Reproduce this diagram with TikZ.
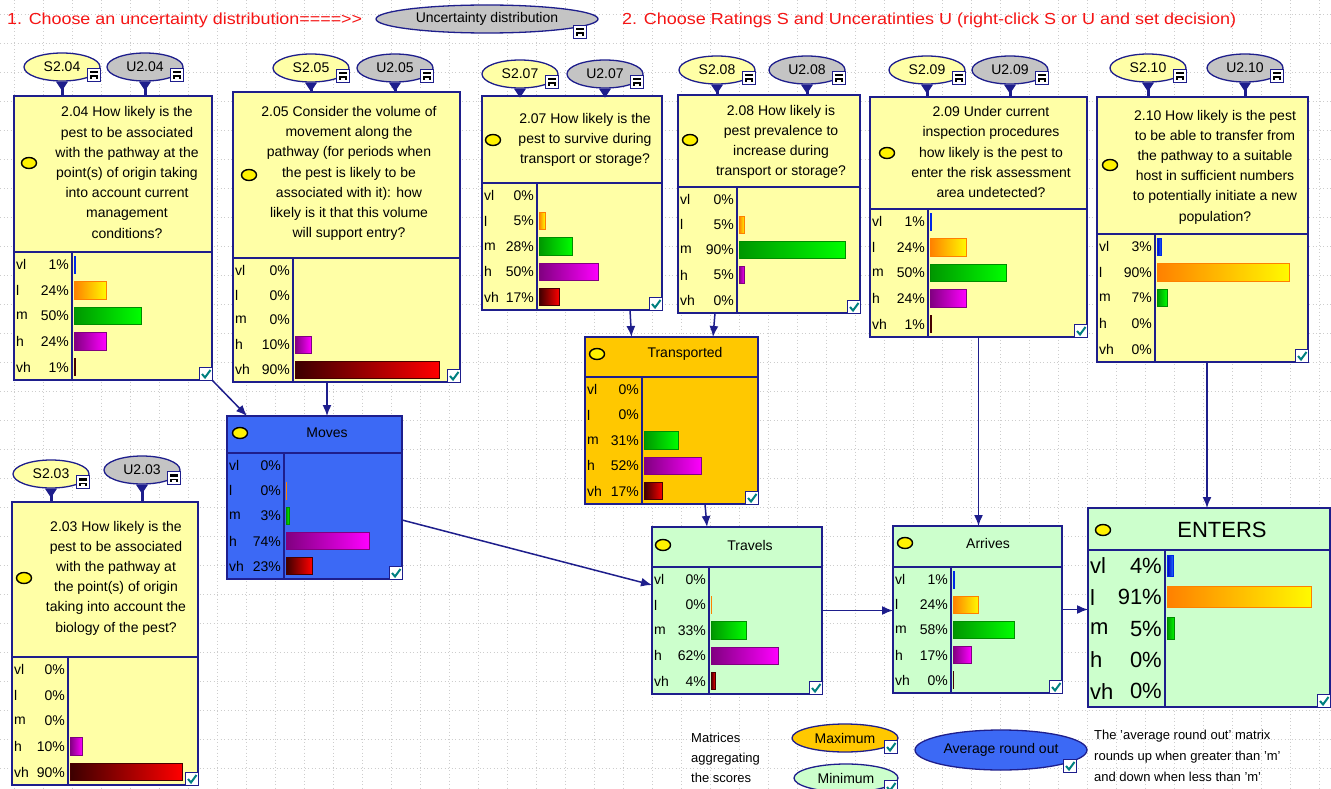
\documentclass[tikz,border=0pt]{standalone}
\usepackage{fontspec}
\setmainfont{Liberation Sans}
\usetikzlibrary{arrows.meta,shapes.geometric}
\definecolor{navy}{RGB}{30,30,140}
\definecolor{qyel}{RGB}{255,255,166}
\definecolor{ugrey}{RGB}{196,196,196}
\definecolor{pgreen}{RGB}{204,255,204}
\definecolor{porange}{RGB}{255,200,0}
\definecolor{pblue}{RGB}{60,105,245}
\definecolor{hred}{RGB}{245,20,20}
\definecolor{chkteal}{RGB}{0,128,128}
\definecolor{gridc}{RGB}{205,205,205}
\tikzset{
 pnodebox/.style={draw=navy, line width=1.6pt, rectangle, inner sep=0pt, outer sep=0pt, anchor=north west},
 divl/.style={draw=navy, line width=1.6pt},
 qtext/.style={font=\fontsize{14}{20.2}\selectfont, align=center, inner sep=0pt},
 lab/.style={font=\fontsize{14}{16}\selectfont, inner sep=0pt},
 ovalicon/.style={ellipse, draw=black, fill=yellow, line width=1.4pt, minimum width=15pt, minimum height=11pt, inner sep=0pt},
 sell/.style={ellipse, draw=navy, line width=1.3pt, fill=qyel, minimum width=76pt, minimum height=28pt, inner sep=0pt, font=\fontsize{14}{16}\selectfont},
 uell/.style={sell, fill=ugrey},
 chkbox/.style={draw=navy, fill=white, line width=1pt, minimum size=13pt, inner sep=0pt, anchor=north west},
 decbox/.style={draw=navy, fill=white, line width=1pt, minimum size=13pt, inner sep=0pt, anchor=north west},
 chkmark/.style={draw=chkteal, line width=2pt},
 arr/.style={draw=navy, line width=1.5pt, -{Latex[length=11pt,width=9pt]}},
 slink/.style={draw=navy, line width=3pt},
 gridl/.style={draw=gridc, line width=0.8pt, dash pattern=on 1pt off 2.5pt},
 bar1/.style={left color={rgb,255:red,0;green,0;blue,190}, right color={rgb,255:red,30;green,110;blue,255}, draw={rgb,255:red,0;green,40;blue,230}, line width=1pt},
 bar2/.style={left color={rgb,255:red,255;green,128;blue,0}, right color={rgb,255:red,255;green,250;blue,0}, draw={rgb,255:red,255;green,128;blue,0}, line width=1pt},
 bar3/.style={left color={rgb,255:red,0;green,150;blue,0}, right color={rgb,255:red,0;green,255;blue,0}, draw={rgb,255:red,0;green,140;blue,0}, line width=1pt},
 bar4/.style={left color={rgb,255:red,128;green,0;blue,128}, right color={rgb,255:red,255;green,0;blue,255}, draw={rgb,255:red,128;green,0;blue,128}, line width=1pt},
 bar5/.style={left color={rgb,255:red,60;green,0;blue,0}, right color={rgb,255:red,255;green,0;blue,0}, draw={rgb,255:red,70;green,0;blue,0}, line width=1pt},
}
\newcommand\statename[1]{\ifcase#1\or vl\or l\or m\or h\or vh\fi}
\newcommand\chkicon[2]{%
 \node[chkbox] (#1) at (#2) {};
 \draw[chkmark] ([shift={(-4,0)}]#1.center) -- ([shift={(-1,3.5)}]#1.center) -- ([shift={(4.5,-4)}]#1.center);}
\newcommand\decicon[2]{%
 \node[decbox] (#1) at (#2) {};
 \fill[black] ([shift={(-4,-4)}]#1.center) rectangle ([shift={(4,-1.5)}]#1.center);
 \fill[black] ([shift={(-4,0.5)}]#1.center) rectangle ([shift={(4,2)}]#1.center);
 \fill[black] ([shift={(-4,0.5)}]#1.center) rectangle ([shift={(-2.2,4.2)}]#1.center);
 \fill[black] ([shift={(2.2,0.5)}]#1.center) rectangle ([shift={(4,4.2)}]#1.center);}
\newcommand\pbox[8]{%
 \node[pnodebox, fill=#8, minimum width={#4-#2}, minimum height={#5-#3}] (#1) at (#2,#3) {};
 \draw[divl] (#2,#6) -- (#4,#6);
 \draw[divl] (#7,#6) -- (#7,#5);
 \chkicon{#1-ck}{#4-13,#5-13}}
\newcommand\labs[6]{%
 \foreach \bv [count=\i] in {#6}{%
  \pgfmathsetmacro\yc{#4+(#5-#4)/5*(\i-0.5)}
  \node[lab, anchor=west] (#1-s\i) at (#2+2,\yc) {\statename{\i}};
  \node[lab, anchor=east] (#1-p\i) at (#3-3,\yc) {\bv\%};
 }}
\newcommand\bars[6]{%
 \foreach \bv [count=\i] in {#6}{%
  \pgfmathsetmacro\yc{#4+(#5-#4)/5*(\i-0.5)}
  \pgfmathsetmacro\bh{(#5-#4)/5*0.34}
  \pgfmathsetmacro\bw{(#3-#2)*0.0096*\bv}
  \ifdim\bv pt>0pt
   \shadedraw[bar\i] (#2+2,\yc-\bh) rectangle (#2+2+\bw,\yc+\bh);
  \fi
 }}
\newcommand\su[5]{%
 \node[#5] (#1) at (#2,#3) {#4};
 \decicon{#1-d}{#2+25,#3+1}}
\begin{document}
\begin{tikzpicture}[x=1pt,y=-1pt]
\useasboundingbox (0,0) rectangle (1331,789);
\fill[white] (0,0) rectangle (1331,789);
\foreach \gy in {14.5,43.5,...,789} \draw[gridl] (0,\gy) -- (1331,\gy);
\foreach \gx in {14,43,...,1331} \draw[gridl] (\gx,0) -- (\gx,789);

% headers
\node[anchor=west, inner sep=0pt, text=hred] (h1) at (7,20) {\resizebox{355pt}{\height}{\fontsize{16}{18}\selectfont 1. Choose an uncertainty distribution====>{}>}};
\node[uell, minimum width=222pt, minimum height=28pt] (ud) at (487,19) {Uncertainty distribution};
\decicon{ud-d}{573,25}
\node[anchor=west, inner sep=0pt, text=hred] (h2) at (622,20) {\resizebox{614pt}{\height}{\fontsize{16}{18}\selectfont 2. Choose Ratings S and Unceratinties U (right-click  S or U and set decision)}};

% question nodes
\pbox{n204}{14}{96}{212}{380}{252}{72}{qyel}
\node[ovalicon] (n204-ov) at (29,163) {};
\node[qtext] (q204) at (127,172.5) {2.04 How likely is the\\pest to be associated\\with the pathway at the\\point(s) of origin taking\\into account current\\management\\conditions?};
\bars{n204}{72}{212}{252}{380}{1,24,50,24,1}
\labs{n204}{14}{72}{252}{380}{1,24,50,24,1}

\pbox{n205}{233}{92}{460}{382}{258}{293}{qyel}
\node[ovalicon] (n205-ov) at (249,175) {};
\node[qtext] (q205) at (349,173.5) {2.05 Consider the volume of\\movement along the\\pathway (for periods when\\the pest is likely to be\\associated with it): how\\likely is it that this volume\\will support entry?};
\bars{n205}{293}{460}{258}{382}{0,0,0,10,90}
\labs{n205}{233}{293}{258}{382}{0,0,0,10,90}

\pbox{n207}{482}{96}{662}{310}{183}{537}{qyel}
\node[ovalicon] (n207-ov) at (493,140) {};
\node[qtext] (q207) at (585,140) {2.07 How likely is the\\pest to survive during\\transport or storage?};
\bars{n207}{537}{662}{183}{310}{0,5,28,50,17}
\labs{n207}{482}{537}{183}{310}{0,5,28,50,17}

\pbox{n208}{678}{95}{860}{313}{187}{737}{qyel}
\node[ovalicon] (n208-ov) at (690,140) {};
\node[qtext] (q208) at (781,142) {2.08 How likely is\\pest prevalence to\\increase during\\transport or storage?};
\bars{n208}{737}{860}{187}{313}{0,5,90,5,0}
\labs{n208}{678}{737}{187}{313}{0,5,90,5,0}

\pbox{n209}{870}{97}{1087}{337}{209}{928}{qyel}
\node[ovalicon] (n209-ov) at (887,153) {};
\node[qtext] (q209) at (991,152) {2.09 Under current\\inspection procedures\\how likely is the pest to\\enter the risk assessment\\area undetected?};
\bars{n209}{928}{1087}{209}{337}{1,24,50,24,1}
\labs{n209}{870}{928}{209}{337}{1,24,50,24,1}

\pbox{n210}{1097}{97}{1308}{362}{234}{1155}{qyel}
\node[ovalicon] (n210-ov) at (1110,165) {};
\node[qtext] (q210) at (1215,167) {2.10 How likely is the pest\\to be able to transfer from\\the pathway to a suitable\\host in sufficient numbers\\to potentially initiate a new\\population?};
\bars{n210}{1155}{1308}{234}{362}{3,90,7,0,0}
\labs{n210}{1097}{1155}{234}{362}{3,90,7,0,0}

\pbox{n203}{12}{502}{198}{785}{657}{68}{qyel}
\node[ovalicon] (n203-ov) at (24,578) {};
\node[qtext] (q203) at (116,578) {2.03 How likely is the\\pest to be associated\\with the pathway at\\the point(s) of origin\\taking into account the\\biology of the pest?};
\bars{n203}{68}{198}{657}{785}{0,0,0,10,90}
\labs{n203}{12}{68}{657}{785}{0,0,0,10,90}

% aggregate nodes
\pbox{moves}{227}{416}{402}{579}{453}{284}{pblue}
\node[ovalicon] (moves-ov) at (240,433) {};
\node[lab] (moves-t) at (327,433) {Moves};
\bars{moves}{284}{402}{453}{579}{0,0.4,3,74,23}
\labs{moves}{227}{284}{453}{579}{0,0,3,74,23}

\pbox{transp}{585}{337}{758}{504}{377}{642}{porange}
\node[ovalicon] (transp-ov) at (597,354) {};
\node[lab] (transp-t) at (685,354) {Transported};
\bars{transp}{642}{758}{377}{504}{0,0,31,52,17}
\labs{transp}{585}{642}{377}{504}{0,0,31,52,17}

\pbox{travels}{652}{527}{822}{694}{567}{709}{pgreen}
\node[ovalicon] (travels-ov) at (663,545) {};
\node[lab] (travels-t) at (750,545) {Travels};
\bars{travels}{709}{822}{567}{694}{0,0.4,33,62,4}
\labs{travels}{652}{709}{567}{694}{0,0,33,62,4}

\pbox{arrives}{893}{526}{1062}{693}{567}{951}{pgreen}
\node[ovalicon] (arrives-ov) at (905,543) {};
\node[lab] (arrives-t) at (988,543) {Arrives};
\bars{arrives}{951}{1062}{567}{693}{1,24,58,17,0.5}
\labs{arrives}{893}{951}{567}{693}{1,24,58,17,0}

\pbox{enters}{1088}{508}{1330}{707}{550}{1165}{pgreen}
\node[ovalicon] (enters-ov) at (1103,530) {};
\node[lab, font=\fontsize{22}{24}\selectfont] (enters-t) at (1222,530) {ENTERS};
\bars{enters}{1165}{1330}{550}{707}{4,91,5,0,0}
\begin{scope}[lab/.style={font=\fontsize{22}{24}\selectfont, inner sep=0pt}]
\labs{enters}{1088}{1165}{550}{707}{4,91,5,0,0}
\end{scope}

% S and U links (drawn before the ellipses so the wedge starts under them)
\coordinate (tmp) at (0,0);
% S and U nodes
\su{s204}{62}{67}{S2.04}{sell}
\su{u204}{145}{67}{U2.04}{uell}
\su{s205}{311}{68}{S2.05}{sell}
\su{u205}{395}{68}{U2.05}{uell}
\su{s207}{520}{74}{S2.07}{sell}
\su{u207}{605}{74}{U2.07}{uell}
\su{s208}{717}{70}{S2.08}{sell}
\su{u208}{807}{70}{U2.08}{uell}
\su{s209}{927}{70}{S2.09}{sell}
\su{u209}{1010}{70}{U2.09}{uell}
\su{s210}{1148}{68}{S2.10}{sell}
\su{u210}{1245}{68}{U2.10}{uell}
\su{s203}{51}{474}{S2.03}{sell}
\su{u203}{142}{470}{U2.03}{uell}

\foreach \a/\b in {s204/n204,u204/n204,s205/n205,u205/n205,s207/n207,u207/n207,s208/n208,u208/n208,s209/n209,u209/n209,s210/n210,u210/n210,s203/n203,u203/n203}{
  \draw[slink] (\a.south) -- (\a.south |- \b.north);
  \fill[navy] ([xshift=-6pt]\a.south) -- ([xshift=6pt]\a.south) -- ([yshift=-9pt]\a.south) -- cycle;
}

% connectors
\draw[arr] (n204.south east) -- ([xshift=20pt]moves.north west);
\coordinate (a5) at ([xshift=-19.5pt]n205.south);
\draw[arr] (a5) -- (a5 |- moves.north);
\draw[arr] ([xshift=58pt]n207.south) -- ([xshift=-40pt]transp.north);
\draw[arr] ([xshift=-54pt]n208.south) -- ([xshift=41.5pt]transp.north);
\draw[arr] ([xshift=33.5pt]transp.south) -- ([xshift=-30pt]travels.north);
\draw[arr] ([yshift=-22.5pt]moves.east) -- ([yshift=25.5pt]travels.west);
\draw[arr] (travels.east) -- (travels.east -| arrives.west);
\draw[arr] (n209.south) -- (n209.south |- arrives.north);
\draw[arr] (arrives.east) -- (arrives.east -| enters.west);
\coordinate (a10) at ([xshift=4.5pt]n210.south);
\draw[arr] (a10) -- (a10 |- enters.north);

% legend
\node[anchor=west, inner sep=0pt, align=left, font=\fontsize{13}{20}\selectfont] (legl) at (691,758) {Matrices\\aggregating\\the scores};
\node[sell, fill=porange, minimum width=106pt, minimum height=28pt] (maxe) at (845,738) {Maximum};
\chkicon{maxe-ck}{884,740}
\node[sell, fill=pgreen, minimum width=104pt, minimum height=28pt] (mine) at (846,778) {Minimum};
\chkicon{mine-ck}{884,780}
\node[sell, fill=pblue, minimum width=172pt, minimum height=40pt] (avge) at (1001,750) {Average round out};
\chkicon{avge-ck}{1063,759}
\node[anchor=west, inner sep=0pt, align=left, font=\fontsize{13}{21}\selectfont] (legr) at (1094,756) {The 'average round out' matrix\\rounds up when greater than 'm'\\and down when less than 'm'};
\end{tikzpicture}
\end{document}
